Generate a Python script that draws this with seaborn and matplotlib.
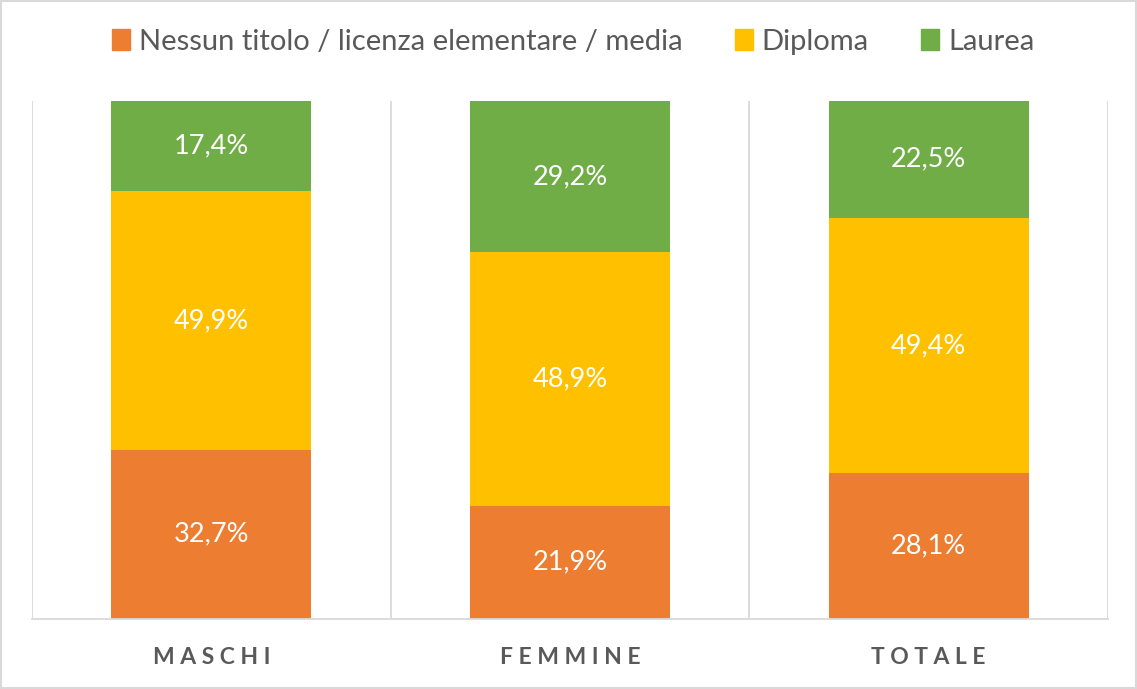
import pandas as pd
import numpy as np
import seaborn as sns
import matplotlib.pyplot as plt
from matplotlib.patches import Patch, Rectangle

categorie = ['MASCHI', 'FEMMINE', 'TOTALE']
serie = ['Nessun titolo / licenza elementare / media', 'Diploma', 'Laurea']
nessun_titolo = [32.7, 21.9, 28.1]
diploma = [49.9, 48.9, 49.4]
laurea = [17.4, 29.2, 22.5]
colori = ['#ED7D31', '#FFC000', '#70AD47']

sns.set_theme(style='white')
plt.rcParams['font.family'] = ['Lato', 'DejaVu Sans']

df = pd.DataFrame({'cat': categorie, serie[0]: nessun_titolo,
                   serie[1]: diploma, serie[2]: laurea})
cum = df[serie].cumsum(axis=1)

fig = plt.figure(figsize=(11.37, 6.89), dpi=100)
ax = fig.add_axes([0.0281, 0.1016, 0.9464, 0.7518])

# barre sovrapposte dal totale in giù (stacked)
for s, c in reversed(list(zip(serie, colori))):
    sns.barplot(x=df['cat'], y=cum[s], color=c, width=0.557, saturation=1,
                ax=ax, linewidth=0, legend=False)

# etichette dei valori
for i in range(len(categorie)):
    base = 0
    for s in serie:
        v = df.loc[i, s]
        ax.text(i, base + v / 2, f'{v:.1f}%'.replace('.', ','), ha='center',
                va='center', color='white', fontsize=19.5)
        base += v

ax.set_xlim(-0.5, 2.5)
ax.set_ylim(0, 100)
ax.set_xlabel('')
ax.set_ylabel('')
ax.set_yticks([])
ax.set_xticks(range(3))
ax.set_xticklabels([' '.join(c) for c in categorie], fontsize=16.5,
                   fontweight='bold', color='#595959')
ax.tick_params(axis='x', length=0, pad=20)
for sp in ['top', 'right', 'left']:
    ax.spines[sp].set_visible(False)
ax.spines['bottom'].set_color('#D9D9D9')
ax.spines['bottom'].set_linewidth(1.3)
for xv in [-0.5, 0.5, 1.5, 2.5]:
    ax.axvline(xv, color='#D9D9D9', lw=1.3, zorder=0)

handles = [Patch(color=c, label=s) for s, c in zip(serie, colori)]
fig.legend(handles=handles, loc='center', bbox_to_anchor=(0.504, 0.939), ncol=3,
           frameon=False, fontsize=21, handlelength=0.62, handleheight=0.72,
           handletextpad=0.3, columnspacing=1.8, labelcolor='#595959')

fig.add_artist(Rectangle((0.001, 0.001), 0.998, 0.997, transform=fig.transFigure,
                         fill=False, edgecolor='#D9D9D9', lw=1.5))

fig.savefig('out.png', dpi=100)
